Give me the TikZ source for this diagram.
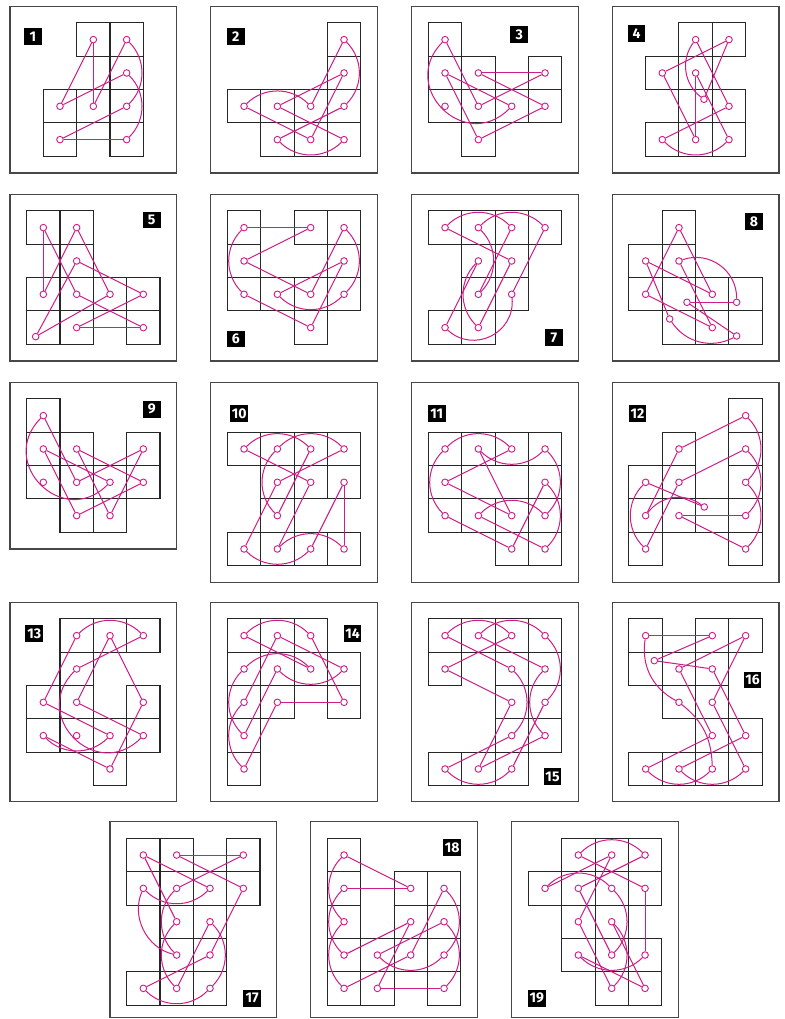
\documentclass[tikz,border=0pt]{standalone}
\usepackage{fontspec}
\setsansfont{Fira Sans}
\definecolor{mg}{RGB}{205,30,135}
\tikzset{
 frame/.style={draw=black!72, line width=0.9pt},
 gridl/.style={draw=black!85, line width=0.72pt},
 ln/.style={draw=mg, line width=0.72pt},
 dot/.style={circle, draw=mg, fill=white, line width=0.65pt, inner sep=0pt, minimum size=1.65mm},
 lab/.style={fill=black, text=white, font=\sffamily\bfseries\fontsize{10}{10}\selectfont, minimum width=4.4mm, minimum height=4.2mm, inner sep=0pt},
 ql/.style={bend left=45}, qr/.style={bend right=45},
 hl/.style={bend left=90, looseness=1.7}, hr/.style={bend right=90, looseness=1.7},
}
\newcommand\cells[1]{\foreach \c/\r in {#1}{\draw[gridl] (\c,-\r) rectangle ++(1,-1);}}
\newcommand\pts[1]{\foreach \c/\r in {#1}{\node[dot] (n\pid x\c y\r) at (\c+0.5,-\r-0.5) {};}}
\newcommand\pt[4]{\node[dot] (n\pid x#1y#2) at (#3,-#4) {};}
\newcommand\Ln[4]{\draw[ln] (n\pid x#1y#2) -- (n\pid x#3y#4);}
\newcommand\Ar[5]{\draw[ln] (n\pid x#2y#3) to[#1] (n\pid x#4y#5);}
\begin{document}
\begin{tikzpicture}[x=0.25mm,y=0.25mm]
\useasboundingbox (0,0) rectangle (784,-1019);
% ---------- 1
\begin{scope}[shift={(10,-6.3)}]
 \draw[frame] (0,0) rectangle (166.7,-166.7);
 \node[lab] (lab1) at (23,-30) {1};
 \begin{scope}[shift={(33.33,-16.67)},scale=33.333]
 \def\pid{1}
 \cells{1/0,2/0,2/1,0/2,1/2,2/2,0/3,2/3}
 \pts{1/0,2/0,2/1,0/2,1/2,2/2,0/3,2/3}
 \Ln1002 \Ln1012 \Ln2012 \Ln0221
 \Ar{ql}2022 \Ar{ql}2123
 \Ln2203 \Ln0323
 \end{scope}
\end{scope}
% ---------- 2
\begin{scope}[shift={(210.7,-6.3)}]
 \draw[frame] (0,0) rectangle (166.7,-166.7);
 \node[lab] (lab2) at (25,-30) {2};
 \begin{scope}[shift={(16.67,-16.67)},scale=33.333]
 \def\pid{2}
 \cells{3/0,3/1,0/2,1/2,2/2,3/2,1/3,2/3,3/3}
 \pts{3/0,3/1,0/2,1/2,2/2,3/2,1/3,2/3,3/3}
 \Ar{ql}3032 \Ln3022 \Ln3112 \Ln3123 \Ln0223
 \Ar{ql}0222 \Ar{qr}1333 \Ln1332 \Ln1233
 \end{scope}
\end{scope}
% ---------- 3
\begin{scope}[shift={(411.7,-6.3)}]
 \draw[frame] (0,0) rectangle (166.7,-166.7);
 \node[lab] (lab3) at (107.5,-28) {3};
 \begin{scope}[shift={(16.67,-16.67)},scale=33.333]
 \def\pid{3}
 \cells{0/0,0/1,1/1,3/1,0/2,1/2,2/2,3/2,1/3}
 \pts{0/0,0/1,1/1,3/1,0/2,1/2,2/2,3/2,1/3}
 \Ar{hr}0022 \Ln0012 \Ln3112 \Ln1131 \Ln1132 \Ln3213 \Ln1301 \Ln0122
 \end{scope}
\end{scope}
% ---------- 4
\begin{scope}[shift={(612.3,-6.3)}]
 \draw[frame] (0,0) rectangle (166.7,-166.7);
 \node[lab] (lab4) at (24.2,-27.4) {4};
 \begin{scope}[shift={(33.33,-16.67)},scale=33.333]
 \def\pid{4}
 \cells{1/0,2/0,0/1,1/1,1/2,2/2,0/3,1/3,2/3}
 \pts{1/0,2/0,0/1,1/1,2/2,0/3,1/3,2/3}
 \pt12{1.75}{2.29}
 \Ar{qr}1012 \Ln1220 \Ln2001 \Ln0113 \Ln1311 \Ln1123 \Ar{qr}0323 \Ln0322 \Ln2210
 \end{scope}
\end{scope}
% ---------- 5
\begin{scope}[shift={(10,-194.3)}]
 \draw[frame] (0,0) rectangle (166.7,-166.7);
 \node[lab] (lab5) at (141.7,-25.7) {5};
 \begin{scope}[shift={(16.67,-16.67)},scale=33.333]
 \def\pid{5}
 \cells{0/0,1/0,1/1,0/2,1/2,2/2,3/2,0/3,1/3,3/3}
 \pts{0/0,1/0,1/1,0/2,1/2,2/2,3/2,1/3,3/3}
 \pt03{0.27}{3.77}
 \Ln0002 \Ln0012 \Ln1002 \Ln1022 \Ln1132 \Ln1103 \Ln0322 \Ln1233 \Ln1332 \Ln1333
 \end{scope}
\end{scope}
% ---------- 6
\begin{scope}[shift={(210.7,-194.3)}]
 \draw[frame] (0,0) rectangle (166.7,-166.7);
 \node[lab] (lab6) at (25.1,-144.7) {6};
 \begin{scope}[shift={(16.67,-16.67)},scale=33.333]
 \def\pid{6}
 \cells{0/0,2/0,3/0,0/1,3/1,0/2,1/2,2/2,3/2,2/3}
 \pts{0/0,2/0,3/0,0/1,3/1,0/2,1/2,2/2,3/2,2/3}
 \Ln0020 \Ln2001 \Ln0122 \Ar{qr}0002 \Ln0223 \Ln2331 \Ln3022 \Ar{ql}3032 \Ln1231 \Ar{qr}1232
 \end{scope}
\end{scope}
% ---------- 7
\begin{scope}[shift={(411.7,-194.3)}]
 \draw[frame] (0,0) rectangle (166.7,-166.7);
 \node[lab] (lab7) at (142.3,-143.2) {7};
 \begin{scope}[shift={(16.67,-16.67)},scale=33.333]
 \def\pid{7}
 \cells{0/0,1/0,2/0,3/0,1/1,2/1,1/2,2/2,0/3,1/3}
 \pts{0/0,1/0,2/0,3/0,1/1,2/1,1/2,2/2,0/3,1/3}
 \Ar{ql}0020 \Ln2012 \Ar{ql}1012 \Ar{ql}1030 \Ln3022
 \Ar{bend right=69,looseness=1.25}0322 \Ln0311 \Ar{qr}1113 \Ln1321 \Ln2100
 \end{scope}
\end{scope}
% ---------- 8
\begin{scope}[shift={(612.3,-194.3)}]
 \draw[frame] (0,0) rectangle (166.7,-166.7);
 \node[lab] (lab8) at (141.7,-27.4) {8};
 \begin{scope}[shift={(16.67,-16.67)},scale=33.333]
 \def\pid{8}
 \cells{1/0,0/1,1/1,0/2,1/2,2/2,3/2,1/3,2/3,3/3}
 \pts{1/0,0/1,1/1,0/2,2/2,2/3}
 \pt12{1.74}{2.74} \pt32{3.23}{2.74} \pt13{1.22}{3.24} \pt33{3.23}{3.75}
 \Ln1002 \Ln1022 \Ln0223 \Ln2311 \Ar{bend left=55,looseness=1.08}1132 \Ln3212 \Ln1233 \Ar{bend left=42}3313 \Ln1301 \Ln0122
 \end{scope}
\end{scope}
% ---------- 9
\begin{scope}[shift={(10,-382.3)}]
 \draw[frame] (0,0) rectangle (166.7,-166.7);
 \node[lab] (lab9) at (141.7,-26.9) {9};
 \begin{scope}[shift={(16.67,-16.67)},scale=33.333]
 \def\pid{9}
 \cells{0/0,0/1,1/1,3/1,0/2,1/2,2/2,3/2,1/3,2/3}
 \pts{0/0,0/1,1/1,3/1,0/2,1/2,2/2,3/2,1/3,2/3}
 \Ar{hr}0022 \Ln0012 \Ln1231 \Ln3123 \Ln2311 \Ln1132 \Ln3213 \Ln1301 \Ln0122
 \end{scope}
\end{scope}
% ---------- 10
\begin{scope}[shift={(210.7,-382.3)}]
 \draw[frame] (0,0) rectangle (166.7,-200);
 \node[lab] (lab10) at (28.5,-31) {10};
 \begin{scope}[shift={(16.67,-50)},scale=33.333]
 \def\pid{10}
 \cells{0/0,1/0,2/0,3/0,1/1,2/1,3/1,1/2,0/3,1/3,2/3,3/3}
 \pts{0/0,1/0,2/0,3/0,1/1,2/1,3/1,1/2,0/3,1/3,2/3,3/3}
 \Ar{ql}0020 \Ar{ql}1030 \Ln0021 \Ln2012 \Ar{qr}1012 \Ln3011 \Ln1103 \Ln2113 \Ln3123 \Ln3133 \Ar{qr}0323 \Ar{ql}1333
 \end{scope}
\end{scope}
% ---------- 11
\begin{scope}[shift={(411.7,-382.3)}]
 \draw[frame] (0,0) rectangle (166.7,-200);
 \node[lab] (lab11) at (25,-31) {11};
 \begin{scope}[shift={(16.67,-50)},scale=33.333]
 \def\pid{11}
 \cells{0/0,1/0,2/0,3/0,0/1,3/1,0/2,1/2,2/2,3/2,2/3,3/3}
 \pts{0/0,1/0,2/0,3/0,0/1,3/1,0/2,1/2,2/2,3/2,2/3,3/3}
 \Ar{ql}0020 \Ln2001 \Ln0122 \Ln2210 \Ar{qr}1030 \Ar{ql}3032 \Ar{qr}3212 \Ln1233 \Ar{qr}3331 \Ln3123 \Ln2302 \Ar{ql}0200
 \end{scope}
\end{scope}
% ---------- 12
\begin{scope}[shift={(612.3,-382.3)}]
 \draw[frame] (0,0) rectangle (166.7,-200);
 \node[lab] (lab12) at (25.2,-31) {12};
 \begin{scope}[shift={(16.67,-16.67)},scale=33.333]
 \def\pid{12}
 \cells{3/0,1/1,3/1,0/2,1/2,3/2,0/3,1/3,2/3,3/3,0/4,3/4}
 \pts{3/0,1/1,3/1,0/2,1/2,3/2,0/3,1/3,3/3,0/4,3/4}
 \pt23{2.26}{3.24}
 \Ln3011 \Ln3112 \Ar{ql}3032 \Ar{ql}3133 \Ar{ql}3234 \Ln1333 \Ln3413 \Ln1103 \Ln1204 \Ln0223 \Ar{ql}0323 \Ar{qr}0204
 \end{scope}
\end{scope}
% ---------- 13
\begin{scope}[shift={(10,-602.3)}]
 \draw[frame] (0,0) rectangle (166.7,-199.4);
 \node[lab] (lab13) at (24.2,-31) {13};
 \begin{scope}[shift={(16.67,-16.67)},scale=33.333]
 \def\pid{13}
 \cells{1/0,2/0,3/0,1/1,0/2,1/2,3/2,0/3,1/3,2/3,3/3,2/4}
 \pts{1/0,2/0,3/0,1/1,0/2,1/2,3/2,0/3,1/3,2/3,3/3,2/4}
 \Ar{ql}1030 \Ln1002 \Ln0223 \Ar{qr}0323 \Ln0324 \Ln2432 \Ln3220 \Ln2012 \Ln1233 \Ar{hl}3311 \Ln1130
 \end{scope}
\end{scope}
% ---------- 14
\begin{scope}[shift={(210.7,-602.3)}]
 \draw[frame] (0,0) rectangle (166.7,-199.4);
 \node[lab] (lab14) at (141.8,-31) {14};
 \begin{scope}[shift={(16.67,-16.67)},scale=33.333]
 \def\pid{14}
 \cells{0/0,1/0,2/0,0/1,1/1,2/1,3/1,0/2,1/2,3/2,0/3,0/4}
 \pts{0/0,1/0,2/0,0/1,1/1,2/1,3/1,0/2,1/2,3/2,0/3,0/4}
 \Ar{ql}0020 \Ln0021 \Ar{ql}0121 \Ar{qr}0103 \Ln0311 \Ar{qr}1131 \Ln3110 \Ln1002 \Ar{qr}0204 \Ln0412 \Ln1232 \Ln3220
 \end{scope}
\end{scope}
% ---------- 15
\begin{scope}[shift={(411.7,-602.3)}]
 \draw[frame] (0,0) rectangle (166.7,-199.4);
 \node[lab] (lab15) at (140.8,-174.5) {15};
 \begin{scope}[shift={(16.67,-16.67)},scale=33.333]
 \def\pid{15}
 \cells{0/0,1/0,2/0,3/0,0/1,2/1,3/1,2/2,3/2,2/3,3/3,0/4,1/4,2/4}
 \pts{0/0,1/0,2/0,3/0,0/1,2/1,3/1,2/2,3/2,2/3,3/3,0/4,1/4,2/4}
 \Ar{ql}0020 \Ln2001 \Ln0122 \Ln2214 \Ln1433 \Ar{ql}3331 \Ln3110 \Ar{ql}1030 \Ar{ql}3032 \Ln3224 \Ar{ql}2404 \Ln0423 \Ar{qr}2321 \Ln2100
 \end{scope}
\end{scope}
% ---------- 16
\begin{scope}[shift={(612.3,-602.3)}]
 \draw[frame] (0,0) rectangle (166.7,-199.4);
 \node[lab] (lab16) at (140.2,-77.7) {16};
 \begin{scope}[shift={(16.67,-16.67)},scale=33.333]
 \def\pid{16}
 \cells{0/0,2/0,3/0,0/1,1/1,2/1,1/2,2/2,2/3,3/3,0/4,1/4,2/4,3/4}
 \pts{0/0,2/0,3/0,1/1,2/1,1/2,2/2,2/3,3/3,0/4,1/4,2/4,3/4}
 \pt01{0.76}{1.25}
 \Ln0020 \Ln2001 \Ln0121 \Ln2133 \Ln3314 \Ar{qr}1434 \Ln3422 \Ln2230 \Ln3011 \Ln1123 \Ln2304 \Ar{qr}0424 \Ar{bend left=25}1224 \Ar{bend right=35}0012
 \end{scope}
\end{scope}
% ---------- 17
\begin{scope}[shift={(110,-821.7)}]
 \draw[frame] (0,0) rectangle (166.7,-196);
 \node[lab] (lab17) at (142.2,-176.6) {17};
 \begin{scope}[shift={(16.67,-16.67)},scale=33.333]
 \def\pid{17}
 \cells{0/0,1/0,3/0,0/1,1/1,2/1,3/1,1/2,2/2,1/3,2/3,0/4,1/4,2/4}
 \pts{0/0,1/0,3/0,0/1,1/1,2/1,3/1,1/2,2/2,1/3,2/3,0/4,1/4,2/4}
 \Ln0021 \Ar{qr}0121 \Ar{bend right=50}0113 \Ar{ql}1311 \Ln1130 \Ln1030 \Ln1031 \Ln3123 \Ln2304 \Ar{qr}0424 \Ar{qr}2422 \Ln2214 \Ar{ql}1412 \Ln1200
 \end{scope}
\end{scope}
% ---------- 18
\begin{scope}[shift={(310.7,-821.7)}]
 \draw[frame] (0,0) rectangle (166.7,-196);
 \node[lab] (lab18) at (141.5,-25.8) {18};
 \begin{scope}[shift={(16.67,-16.67)},scale=33.333]
 \def\pid{18}
 \cells{0/0,0/1,0/2,0/3,0/4,1/3,1/4,2/1,2/2,2/3,3/1,3/2,3/3,3/4}
 \pts{0/0,0/1,0/2,0/3,0/4,1/3,1/4,2/1,2/2,2/3,3/1,3/2,3/3,3/4}
 \Ar{qr}0002 \Ar{qr}0103 \Ar{qr}0204 \Ln0021 \Ln0121 \Ln0322 \Ln0423 \Ln2331 \Ar{ql}3133 \Ar{qr}1333 \Ln1332 \Ar{ql}3234 \Ln3414 \Ln1422
 \end{scope}
\end{scope}
% ---------- 19
\begin{scope}[shift={(511.7,-821.7)}]
 \draw[frame] (0,0) rectangle (166.7,-196);
 \node[lab] (lab19) at (25,-176.6) {19};
 \begin{scope}[shift={(16.67,-16.67)},scale=33.333]
 \def\pid{19}
 \cells{1/0,2/0,3/0,0/1,1/1,2/1,3/1,1/2,2/2,1/3,2/3,3/3,2/4,3/4}
 \pts{1/0,2/0,3/0,0/1,1/1,2/1,3/1,1/2,2/2,1/3,2/3,3/3,2/4,3/4}
 \Ar{ql}1030 \Ln3011 \Ln1123 \Ar{qr}2321 \Ar{ql}0121 \Ln0120 \Ln2012 \Ln1224 \Ar{qr}2422 \Ln2234 \Ln3413 \Ar{qr}1333 \Ln3331 \Ln3110
 \end{scope}
\end{scope}
\end{tikzpicture}
\end{document}
